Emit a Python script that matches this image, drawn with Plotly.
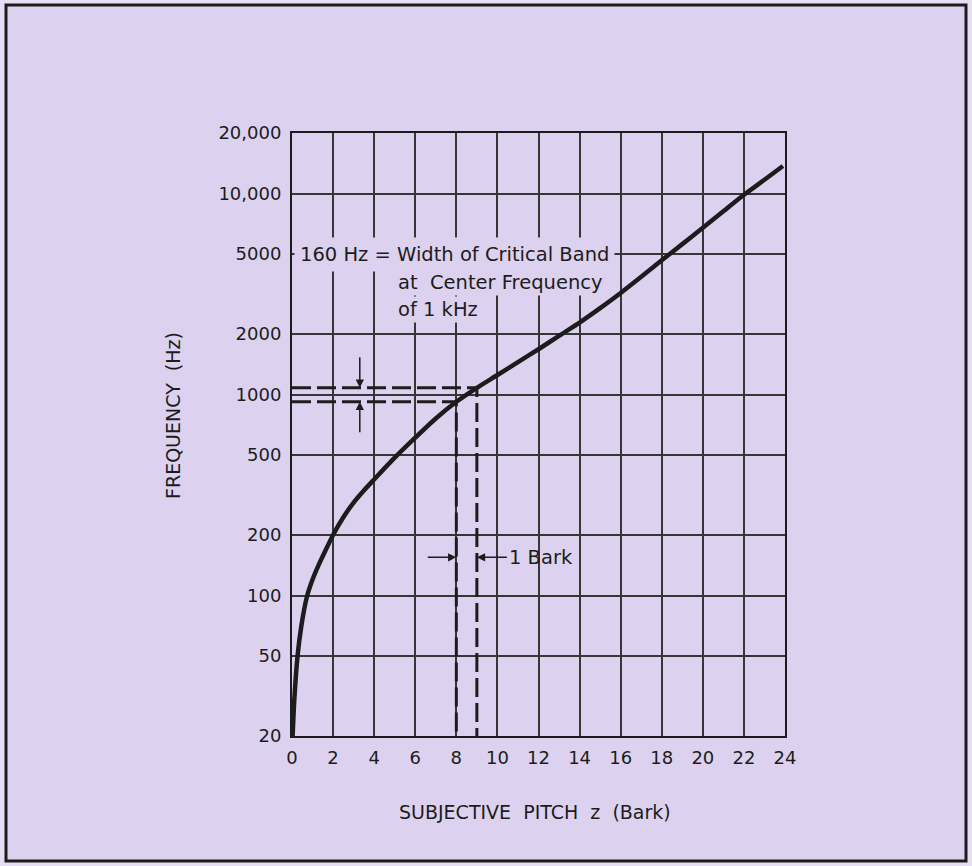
"""Critical-band rate (Bark) versus frequency, redrawn with Plotly."""

import math

import plotly.graph_objects as go

# curve
PITCH_BARK = [0.03, 0.11, 0.27, 0.45, 0.72, 1.0, 1.3, 1.6, 2, 2.5, 3, 3.5,
              4, 5, 6, 7, 8, 9, 10, 11, 12, 13, 14, 15, 16, 17, 18, 19, 20,
              21, 22, 23, 23.9]
FREQ_HZ = [20, 30, 50, 70, 98, 120, 142, 165, 200, 245, 290, 333, 378, 485,
           610, 760, 920, 1080, 1250, 1450, 1680, 1960, 2280, 2690, 3200,
           3850, 4650, 5600, 6750, 8150, 9850, 11700, 13700]

# the 1 kHz critical band (lower / upper edge)
BAND_Z = [8, 9]
BAND_HZ = [920, 1080]

X_TICKS = list(range(0, 25, 2))
Y_TICKS = [20, 50, 100, 200, 500, 1000, 2000, 5000, 10000, 20000]
Y_TICK_TEXT = ["20", "50", "100", "200", "500", "1000", "2000", "5000",
               "10,000", "20,000"]

BG = "#dcd2f0"
INK = "#1c1c1c"
GRID = "#363636"
FONT = "DejaVu Sans, Liberation Sans, sans-serif"

W, H = 972, 866
PLOT_L, PLOT_R, PLOT_T, PLOT_B = 292, 785, 133, 736


def px_x(px):
    return (px - PLOT_L) / (PLOT_R - PLOT_L)


def px_y(py):
    return 1 - (py - PLOT_T) / (PLOT_B - PLOT_T)


fig = go.Figure()

# dashed construction lines from the axes to the curve
for z, f in zip(BAND_Z, BAND_HZ):
    fig.add_trace(go.Scatter(
        x=[0, z, z], y=[f, f, Y_TICKS[0]],
        mode="lines",
        line={"color": INK, "width": 3, "dash": "19px,6px"},
        hoverinfo="skip",
    ))

fig.add_trace(go.Scatter(
    x=PITCH_BARK, y=FREQ_HZ,
    mode="lines",
    line={"color": INK, "width": 4.5, "shape": "spline", "smoothing": 0.7},
    hoverinfo="skip",
))

axis_font = {"family": FONT, "size": 18, "color": INK}
fig.update_xaxes(
    range=[0, 24], tickvals=X_TICKS,
    showgrid=True, gridcolor=GRID, gridwidth=1.5,
    showline=True, linecolor=INK, linewidth=2, mirror=True,
    zeroline=False, ticks="", ticklabelstandoff=4,
    tickfont=axis_font,
)
fig.update_yaxes(
    type="log", range=[math.log10(Y_TICKS[0]), math.log10(Y_TICKS[-1])],
    tickvals=Y_TICKS, ticktext=Y_TICK_TEXT,
    showgrid=True, gridcolor=GRID, gridwidth=1.5,
    showline=True, linecolor=INK, linewidth=2, mirror=True,
    zeroline=False, ticks="", ticklabelstandoff=5,
    tickfont=axis_font,
)

text_font = {"family": FONT, "size": 19.5, "color": INK}
title_font = {"family": FONT, "size": 19, "color": INK}
arrow = {"showarrow": True, "arrowhead": 2, "arrowsize": 1.1,
         "arrowwidth": 1.5, "arrowcolor": INK}
note = {"xref": "x", "yref": "y", "xanchor": "left", "showarrow": False,
        "bgcolor": BG, "font": text_font}
annotations = [
    # pasted-on note lines, their background hides the grid behind them
    dict(x=0.1, y=math.log10(5000), text="160 Hz = Width of Critical Band",
         borderpad=5, **note),
    dict(x=5.05, y=math.log10(3590), text="at  Center Frequency",
         borderpad=1, **note),
    dict(x=5.05, y=math.log10(2640), text="of 1 kHz", borderpad=1, **note),
    # arrows pinching the 160 Hz band
    dict(x=3.3, y=math.log10(BAND_HZ[1]), xref="x", yref="y", text="",
         ax=0, ay=-32, **arrow),
    dict(x=3.3, y=math.log10(BAND_HZ[0]), xref="x", yref="y", text="",
         ax=0, ay=32, **arrow),
    # arrows pinching the 1 Bark step
    dict(x=BAND_Z[0], y=math.log10(155), xref="x", yref="y", text="",
         ax=-30, ay=0, **arrow),
    dict(x=BAND_Z[1], y=math.log10(155), xref="x", yref="y",
         text="1 Bark", xanchor="left", ax=30, ay=0, font=text_font,
         **arrow),
    # axis titles
    dict(x=px_x(173), y=px_y(416), xref="paper", yref="paper",
         xanchor="center", yanchor="middle",
         text="FREQUENCY  (Hz)", textangle=-90, showarrow=False,
         font=title_font),
    dict(x=px_x(535), y=px_y(812), xref="paper", yref="paper",
         xanchor="center", yanchor="middle",
         text="SUBJECTIVE  PITCH  z  (Bark)", showarrow=False,
         font=title_font),
]

fig.update_layout(
    width=W, height=H,
    margin={"l": PLOT_L, "r": W - PLOT_R, "t": PLOT_T, "b": H - PLOT_B},
    paper_bgcolor="#e6def4",
    plot_bgcolor=BG,
    showlegend=False,
    annotations=annotations,
    shapes=[dict(
        type="rect", xref="paper", yref="paper", layer="below",
        x0=px_x(6), x1=px_x(966), y0=px_y(861), y1=px_y(5),
        line={"color": INK, "width": 3}, fillcolor=BG,
    )],
)

# drop the browser's default body margin so the figure sits at 0,0
fig.write_html("out.html", config={"displayModeBar": False},
               post_script="document.body.style.margin='0';")
